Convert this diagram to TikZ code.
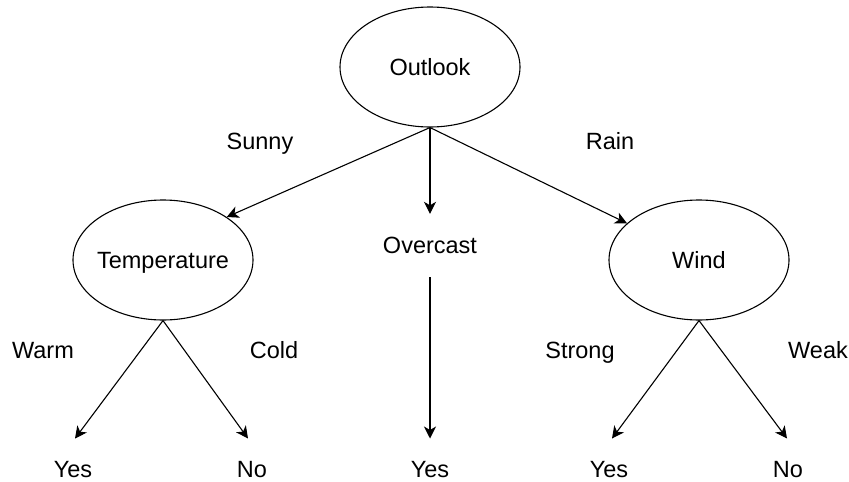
\documentclass[tikz,border=0pt]{standalone}
\usepackage{fontspec}
\setmainfont{Liberation Sans}
\usetikzlibrary{arrows.meta,shapes.geometric}
\begin{document}
\begin{tikzpicture}[x=1pt,y=-1pt,
  every node/.style={font=\fontsize{23.5}{27}\selectfont},
  decision/.style={ellipse,draw,line width=1.1pt,minimum width=180pt,minimum height=120pt,inner sep=0pt,text height=16.8pt,text depth=0pt},
  lbl/.style={inner sep=0pt,text height=16.8pt,text depth=0pt},
  conn/.style={line width=1.1pt,-{Stealth[length=12pt,width=12pt,inset=3.5pt]}}]
\useasboundingbox (0,0) rectangle (849,482);
% decision nodes
\node[decision] (outlook) at (430,67) {\makebox[0pt]{Outlook}};
\node[decision] (temp) at (163,260) {\makebox[0pt]{Temperature}};
\node[decision] (wind) at (699,260) {\makebox[0pt]{Wind}};
\node[lbl,inner ysep=23.1pt] (ovc) at (430,245.5) {Overcast};
% branch labels
\node[lbl] (sunny) at (260,141) {Sunny};
\node[lbl] (rain) at (610,141) {Rain};
\node[lbl] (warm) at (43,350) {Warm};
\node[lbl] (cold) at (274,350) {Cold};
\node[lbl] (strong) at (580,350) {Strong};
\node[lbl] (weak) at (818,350) {Weak};
% leaves
\node[lbl] (y1) at (73,469.5) {Yes};
\node[lbl] (n1) at (252,469.5) {No};
\node[lbl] (y2) at (430,469.5) {Yes};
\node[lbl] (y3) at (609,469.5) {Yes};
\node[lbl] (n2) at (788,469.5) {No};
% arrow tips
\coordinate (ty1) at (75,438.5);
\coordinate (tn1) at (248,438.5);
\coordinate (ty2) at (430,438.5);
\coordinate (ty3) at (612,438.5);
\coordinate (tn2) at (787,438.5);
% connectors
\draw[conn] (outlook.south) -- (temp.34);
\draw[conn] (outlook.south) -- (ovc.north);
\draw[conn] (outlook.south) -- (wind.153);
\draw[conn] (temp.south) -- (ty1);
\draw[conn] (temp.south) -- (tn1);
\draw[conn] (ovc.south) -- (ty2);
\draw[conn] (wind.south) -- (ty3);
\draw[conn] (wind.south) -- (tn2);
\end{tikzpicture}
\end{document}
